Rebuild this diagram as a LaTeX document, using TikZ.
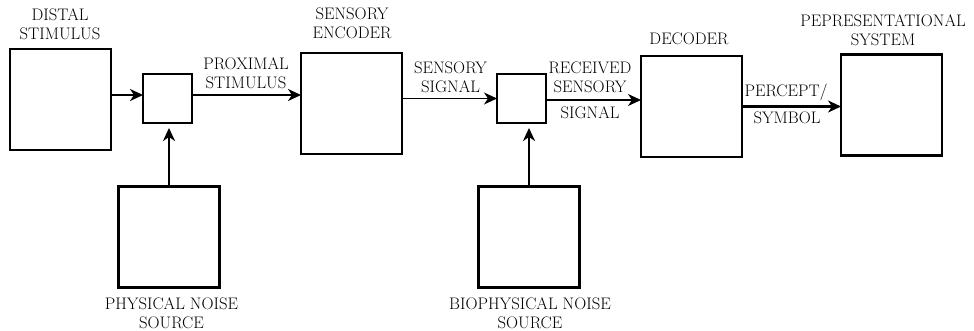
\documentclass[tikz,border=0pt]{standalone}
\usetikzlibrary{arrows.meta}
\begin{document}
\begin{tikzpicture}[x=1pt,y=-1pt,
  blk/.style={draw,line width=2.5pt,minimum width=101pt,minimum height=101pt,inner sep=0pt,outer sep=0pt},
  sblk/.style={draw,line width=2.1pt,minimum width=49pt,minimum height=49pt,inner sep=0pt,outer sep=0pt},
  lbl/.style={font=\fontsize{16.7}{19}\selectfont,align=center,inner sep=0pt},
  tip/.style={-{Stealth[length=13pt,width=12pt,inset=4pt]}},
  arr/.style={line width=2.4pt,tip},
  thinarr/.style={line width=1.3pt,tip}]
\useasboundingbox (0,0) rectangle (974,330);
% boxes
\node[blk] (dist) at (60.5,99.5) {};
\node[sblk] (b1) at (167.5,98.5) {};
\node[blk] (enc) at (351.5,103.5) {};
\node[sblk] (b2) at (521.5,98.5) {};
\node[blk] (dec) at (691.5,106.5) {};
\node[blk] (rep) at (891.5,105) {};
\node[blk] (phys) at (169,237) {};
\node[blk] (bio) at (529,237) {};
% anchor coordinates
\coordinate (b1w) at ([yshift=3.5pt]b1.west);
\coordinate (b1e) at ([yshift=3.5pt]b1.east);
\coordinate (b2e) at ([yshift=-1.5pt]b2.east);
% connectors
\draw[arr] (dist.east |- b1w) -- (b1w);
\draw[arr] (b1e) -- (enc.west |- b1e);
\draw[thinarr] (enc.east |- b2.west) -- (b2.west);
\draw[line width=1.7pt,tip] (b2e) -- (dec.west |- b2e);
\draw[arr] (dec.east) -- (rep.west |- dec.east);
\draw[arr,shorten >=5pt] (phys.north) -- (b1.south -| phys.north);
\draw[arr,shorten >=5pt] (bio.north) -- (b2.south -| bio.north);
% labels
\node[lbl] (tdist) at (60,24.5) {DISTAL\\STIMULUS};
\node[lbl] (tprox) at (246,73.5) {PROXIMAL\\STIMULUS};
\node[lbl] (tenc) at (352,23.5) {SENSORY\\ENCODER};
\node[lbl] (tss) at (450.5,77) {SENSORY\\SIGNAL};
\node[lbl] (trs) at (590,77) {RECEIVED\\SENSORY};
\node[lbl] (trs2) at (590,113) {SIGNAL};
\node[lbl] (tdec) at (689,39) {DECODER};
\node[lbl] (trep) at (883,30) {PEPRESENTATIONAL\\SYSTEM};
\node[lbl] (tper) at (786,92) {PERCEPT/};
\node[lbl] (tsym) at (787,118) {SYMBOL};
\node[lbl] (tphys) at (171.5,313) {PHYSICAL NOISE\\SOURCE};
\node[lbl] (tbio) at (530,313) {BIOPHYSICAL NOISE\\SOURCE};
\end{tikzpicture}
\end{document}
